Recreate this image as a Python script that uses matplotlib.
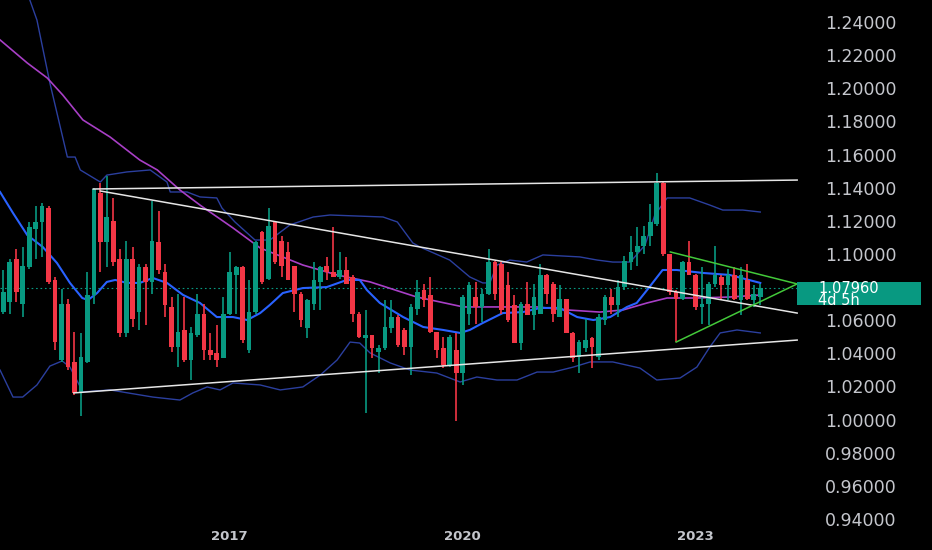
import numpy as np
import pandas as pd
import matplotlib
matplotlib.use("Agg")
import matplotlib.pyplot as plt
from matplotlib.patches import Rectangle
from matplotlib.transforms import blended_transform_factory

# monthly candles, Feb 2014 .. Nov 2023
months = pd.date_range("2014-02-01", periods=118, freq="MS")

opens = [1.065, 1.071, 1.097, 1.070, 1.092, 1.115, 1.119, 1.128, 1.084, 1.036,
         1.070, 1.035, 1.016, 1.035, 1.075, 1.137, 1.107, 1.120, 1.097, 1.052,
         1.097, 1.065, 1.092, 1.083, 1.107, 1.089, 1.068, 1.044, 1.054, 1.036,
         1.051, 1.064, 1.042, 1.040, 1.037, 1.064, 1.087, 1.092, 1.042, 1.065,
         1.113, 1.085, 1.119, 1.108, 1.101, 1.093, 1.076, 1.055, 1.070, 1.083,
         1.093, 1.089, 1.086, 1.090, 1.086, 1.064, 1.049, 1.051, 1.041, 1.043,
         1.055, 1.062, 1.054, 1.044, 1.067, 1.078, 1.075, 1.053, 1.043, 1.033,
         1.042, 1.028, 1.064, 1.074, 1.068, 1.076, 1.095, 1.094, 1.081, 1.069,
         1.046, 1.070, 1.063, 1.064, 1.087, 1.082, 1.062, 1.073, 1.052, 1.038,
         1.043, 1.049, 1.038, 1.060, 1.074, 1.069, 1.080, 1.095, 1.101, 1.105,
         1.111, 1.118, 1.143, 1.100, 1.077, 1.073, 1.095, 1.087, 1.068, 1.070,
         1.082, 1.086, 1.081, 1.087, 1.072, 1.084, 1.072, 1.074]
highs = [1.090, 1.097, 1.103, 1.104, 1.119, 1.129, 1.131, 1.129, 1.086, 1.079,
         1.073, 1.053, 1.052, 1.089, 1.140, 1.143, 1.147, 1.134, 1.103, 1.108,
         1.104, 1.094, 1.094, 1.132, 1.126, 1.094, 1.074, 1.076, 1.074, 1.056,
         1.076, 1.070, 1.052, 1.057, 1.074, 1.101, 1.093, 1.093, 1.084, 1.108,
         1.114, 1.128, 1.120, 1.111, 1.107, 1.093, 1.077, 1.073, 1.095, 1.093,
         1.098, 1.116, 1.101, 1.098, 1.087, 1.065, 1.066, 1.051, 1.045, 1.072,
         1.072, 1.063, 1.055, 1.070, 1.084, 1.082, 1.086, 1.053, 1.050, 1.051,
         1.052, 1.075, 1.083, 1.083, 1.079, 1.103, 1.096, 1.095, 1.089, 1.075,
         1.071, 1.083, 1.082, 1.094, 1.088, 1.083, 1.081, 1.073, 1.053, 1.048,
         1.061, 1.050, 1.064, 1.075, 1.079, 1.084, 1.099, 1.111, 1.116, 1.117,
         1.130, 1.149, 1.144, 1.100, 1.078, 1.096, 1.108, 1.088, 1.092, 1.083,
         1.105, 1.087, 1.091, 1.092, 1.092, 1.094, 1.081, 1.082]
lows = [1.064, 1.064, 1.071, 1.062, 1.091, 1.097, 1.098, 1.082, 1.042, 1.035,
        1.030, 1.015, 1.002, 1.034, 1.070, 1.089, 1.092, 1.093, 1.050, 1.050,
        1.056, 1.054, 1.057, 1.076, 1.088, 1.062, 1.041, 1.032, 1.035, 1.024,
        1.050, 1.036, 1.036, 1.032, 1.037, 1.063, 1.064, 1.046, 1.040, 1.064,
        1.082, 1.084, 1.094, 1.086, 1.084, 1.065, 1.056, 1.049, 1.066, 1.066,
        1.084, 1.086, 1.085, 1.082, 1.059, 1.049, 1.004, 1.037, 1.028, 1.042,
        1.052, 1.044, 1.039, 1.027, 1.063, 1.068, 1.052, 1.037, 1.031, 1.032,
        0.999, 1.021, 1.057, 1.058, 1.059, 1.075, 1.072, 1.064, 1.059, 1.046,
        1.042, 1.063, 1.054, 1.064, 1.070, 1.059, 1.062, 1.052, 1.035, 1.028,
        1.041, 1.031, 1.036, 1.057, 1.064, 1.062, 1.078, 1.090, 1.093, 1.100,
        1.105, 1.117, 1.099, 1.075, 1.047, 1.072, 1.087, 1.066, 1.058, 1.057,
        1.080, 1.072, 1.072, 1.072, 1.063, 1.072, 1.068, 1.069]
closes = [1.077, 1.095, 1.077, 1.093, 1.116, 1.119, 1.129, 1.083, 1.047, 1.070,
          1.032, 1.016, 1.038, 1.075, 1.139, 1.107, 1.122, 1.095, 1.052, 1.097,
          1.061, 1.092, 1.083, 1.108, 1.090, 1.069, 1.044, 1.053, 1.036, 1.052,
          1.064, 1.042, 1.039, 1.036, 1.064, 1.089, 1.092, 1.048, 1.065, 1.107,
          1.083, 1.117, 1.095, 1.093, 1.084, 1.076, 1.060, 1.072, 1.084, 1.092,
          1.089, 1.086, 1.090, 1.082, 1.064, 1.050, 1.051, 1.043, 1.043, 1.056,
          1.062, 1.045, 1.044, 1.068, 1.077, 1.072, 1.053, 1.042, 1.033, 1.050,
          1.028, 1.074, 1.081, 1.068, 1.076, 1.095, 1.076, 1.066, 1.060, 1.046,
          1.070, 1.063, 1.074, 1.087, 1.076, 1.064, 1.073, 1.052, 1.037, 1.047,
          1.048, 1.044, 1.062, 1.074, 1.069, 1.080, 1.096, 1.101, 1.105, 1.111,
          1.119, 1.143, 1.100, 1.077, 1.073, 1.095, 1.087, 1.068, 1.070, 1.082,
          1.087, 1.081, 1.087, 1.0725, 1.087, 1.073, 1.076, 1.0796]

# bollinger bands + MA, read at a few points (candle index, price)
upper_x = [4.1, 5.2, 7.2, 9.9, 11.1, 11.9, 15.0, 16.0, 19.1, 22.7, 25.3, 25.8, 28.4,
           30.4, 33.0, 33.8, 35.8, 38.9, 41.2, 44.3, 47.9, 50.5, 58.7, 60.9, 63.3,
           64.4, 69.0, 72.1, 74.1, 75.2, 76.3, 78.3, 80.9, 83.4, 89.1, 91.8, 94.2,
           96.9, 99.2, 100.7, 102.6, 106.1, 109.2, 111.2, 114.3, 117.0]
upper_y = [1.2533, 1.2412, 1.2032, 1.1585, 1.1585, 1.1507, 1.1434, 1.1476, 1.1495,
           1.1507, 1.1434, 1.1374, 1.1374, 1.1344, 1.1338, 1.1277, 1.1193, 1.1084,
           1.1084, 1.1175, 1.1223, 1.1235, 1.1223, 1.1193, 1.1066, 1.1042, 1.0963,
           1.0861, 1.0825, 1.0825, 1.0933, 1.0963, 1.0951, 1.0994, 1.0982, 1.0963,
           1.0951, 1.0951, 1.1054, 1.1235, 1.1338, 1.1338, 1.1295, 1.1265, 1.1265,
           1.1253]
mid_x = [-0.5, 1.5, 3.7, 6.1, 8.3, 10.3, 12.2, 13.1, 14.5, 16.0, 17.3, 19.1, 21.1,
         23.1, 25.3, 27.8, 30.4, 33.0, 35.5, 37.7, 39.7, 41.2, 43.2, 46.3, 50.0,
         53.1, 55.1, 56.2, 58.2, 61.8, 64.9, 68.0, 70.6, 72.1, 74.1, 77.2, 80.3,
         83.0, 86.0, 88.7, 91.2, 93.8, 96.4, 97.9, 99.5, 101.9, 104.1, 108.2,
         112.3, 117.0]
mid_y = [1.1374, 1.1247, 1.1114, 1.1042, 1.0945, 1.0825, 1.0734, 1.0722, 1.0764,
         1.0831, 1.0843, 1.0825, 1.0825, 1.0855, 1.0825, 1.0752, 1.0704, 1.0619,
         1.0619, 1.0601, 1.0643, 1.0692, 1.0764, 1.0794, 1.0800, 1.0843, 1.0843,
         1.0782, 1.0704, 1.0619, 1.0559, 1.0541, 1.0523, 1.0541, 1.0583, 1.0643,
         1.0649, 1.0674, 1.0674, 1.0619, 1.0601, 1.0619, 1.0680, 1.0704, 1.0782,
         1.0903, 1.0903, 1.0885, 1.0873, 1.0825]
lower_x = [-0.5, 1.5, 3.0, 5.2, 7.2, 9.1, 10.3, 12.3, 16.5, 23.1, 27.3, 29.3, 31.5,
           33.5, 35.5, 39.7, 42.8, 46.3, 49.0, 51.6, 53.6, 55.1, 56.7, 59.8, 62.9,
           67.0, 70.6, 73.2, 76.3, 79.4, 82.5, 85.0, 88.1, 90.7, 94.2, 98.4, 101.0,
           104.6, 107.2, 109.2, 110.8, 113.4, 117.0]
lower_y = [1.0299, 1.0136, 1.0136, 1.0209, 1.0323, 1.0354, 1.0317, 1.0167, 1.0179,
           1.0136, 1.0118, 1.0161, 1.0197, 1.0179, 1.0221, 1.0209, 1.0179, 1.0197,
           1.0269, 1.0360, 1.0468, 1.0462, 1.0402, 1.0342, 1.0299, 1.0281, 1.0227,
           1.0257, 1.0239, 1.0239, 1.0287, 1.0287, 1.0317, 1.0348, 1.0348, 1.0311,
           1.0239, 1.0251, 1.0317, 1.0438, 1.0523, 1.0541, 1.0523]
ma_x = [-0.5, 3.7, 6.8, 9.2, 12.3, 16.5, 21.1, 23.8, 27.3, 30.4, 35.5, 39.7, 46.3,
        51.6, 56.7, 63.9, 71.1, 77.2, 82.5, 87.1, 92.2, 95.8, 99.5, 102.6, 107.2,
        112.3, 117.0]
ma_y = [1.2292, 1.2153, 1.2062, 1.1959, 1.1809, 1.1706, 1.1567, 1.1507, 1.1386,
        1.1295, 1.1157, 1.1036, 1.0933, 1.0873, 1.0831, 1.0740, 1.0680, 1.0680,
        1.0680, 1.0662, 1.0649, 1.0662, 1.0704, 1.0734, 1.0734, 1.0740, 1.0752]

# drawn trend lines (candle index, price)
chan_top = ([13.9, 122.7], [1.1392, 1.1446])
chan_down = ([15.0, 122.7], [1.1380, 1.0643])
chan_low = ([10.9, 122.7], [1.0161, 1.0480])
tri_up = ([103.1, 122.7], [1.1012, 1.0819])
tri_low = ([104.0, 122.7], [1.0468, 1.0819])

price_ticks = [1.24, 1.22, 1.20, 1.18, 1.16, 1.14, 1.12, 1.10, 1.06, 1.04,
               1.02, 1.00, 0.98, 0.96, 0.94]
year_ticks = [2017, 2020, 2023]

green = "#089981"
red = "#f23645"
txt = "#c4c6cc"

O = np.array(opens)
H = np.array(highs)
L = np.array(lows)
C = np.array(closes)
idx = np.arange(len(O))
cols = np.where(C >= O, green, red)

fig = plt.figure(figsize=(9.32, 5.5), dpi=100, facecolor="black")
ax = fig.add_axes([0, 28 / 550, 800 / 932, 522 / 550])
ax.set_facecolor("black")

# indicators
ax.plot(upper_x, upper_y, color="#2b3f9e", lw=1.0, zorder=2)
ax.plot(lower_x, lower_y, color="#2b3f9e", lw=1.0, zorder=2)
ax.plot(ma_x, ma_y, color="#a83fc6", lw=1.2, zorder=2)
ax.plot(mid_x, mid_y, color="#2962ff", lw=1.5, zorder=2)

# candles
ax.vlines(idx, L, H, colors=cols, lw=1.2, zorder=3)
body = np.maximum(np.abs(C - O), 0.0006)
ax.bar(idx, body, bottom=np.minimum(O, C), width=0.72, color=cols, lw=0, zorder=4)

# trend lines
for ln in (chan_top, chan_down, chan_low):
    ax.plot(ln[0], ln[1], color="#e6e6e6", lw=1.1, zorder=5)
for ln in (tri_up, tri_low):
    ax.plot(ln[0], ln[1], color="#43c93a", lw=1.1, zorder=5)

last = C[-1]
ax.hlines(last, -0.5, 122.7, colors=green, linestyles=(0, (1.5, 2.5)), lw=0.8, zorder=1)

ax.set_xlim(-0.51, 123.14)
ax.set_ylim(0.93817, 1.2533)

# axes cosmetics
for s in ax.spines.values():
    s.set_visible(False)
ax.yaxis.tick_right()
ax.set_yticks(price_ticks)
ax.set_yticklabels([f"{v:.5f}" for v in price_ticks])
ax.tick_params(axis="y", length=0, pad=44, labelsize=12.5, labelcolor=txt)
for lbl in ax.get_yticklabels():
    lbl.set_ha("center")

xt = [i for i, d in enumerate(months) if d.month == 1 and d.year in year_ticks]
ax.set_xticks(xt)
ax.set_xticklabels([str(y) for y in year_ticks])
ax.tick_params(axis="x", length=0, pad=6, labelsize=9.5, labelcolor=txt)
for lbl in ax.get_xticklabels():
    lbl.set_fontweight("bold")

# last price tag
trans = blended_transform_factory(fig.transFigure, ax.transData)
ax.add_patch(Rectangle((797 / 932, last - 0.0104), 124 / 932, 0.0139,
                       transform=trans, facecolor=green, edgecolor="none",
                       clip_on=False, zorder=6))
ax.text(818 / 932, last - 0.0040, f"{last:.5f}\n4d 5h", transform=trans,
        ha="left", va="center", color="white", fontsize=10.5, linespacing=0.8,
        clip_on=False, zorder=7)

fig.savefig("out.png", dpi=100, facecolor="black")
